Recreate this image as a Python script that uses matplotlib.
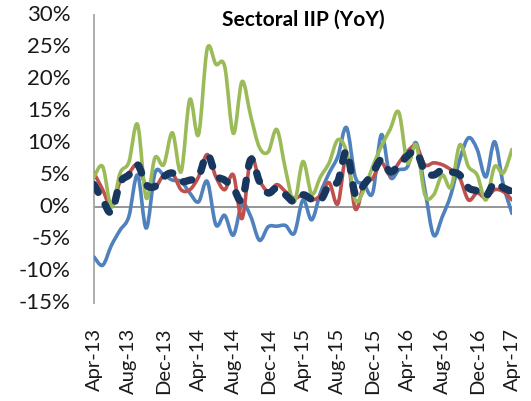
import matplotlib
matplotlib.use("Agg")
import matplotlib.pyplot as plt
from matplotlib.path import Path
from matplotlib.patches import PathPatch
import numpy as np

plt.rcParams['font.family'] = ['Lato', 'DejaVu Sans']

months = ["Apr-13", "May-13", "Jun-13", "Jul-13", "Aug-13", "Sep-13", "Oct-13", "Nov-13",
          "Dec-13", "Jan-14", "Feb-14", "Mar-14", "Apr-14", "May-14", "Jun-14", "Jul-14",
          "Aug-14", "Sep-14", "Oct-14", "Nov-14", "Dec-14", "Jan-15", "Feb-15", "Mar-15",
          "Apr-15", "May-15", "Jun-15", "Jul-15", "Aug-15", "Sep-15", "Oct-15", "Nov-15",
          "Dec-15", "Jan-16", "Feb-16", "Mar-16", "Apr-16", "May-16", "Jun-16", "Jul-16",
          "Aug-16", "Sep-16", "Oct-16", "Nov-16", "Dec-16", "Jan-17", "Feb-17", "Mar-17",
          "Apr-17"]

blue = [-7.8, -9.1, -6.0, -3.6, -1.5, 5.0, -3.3, 5.3, 5.0, 4.2, 4.0, 2.2, 0.8, 4.0, -2.8, -1.3,
        -4.4, 0.5, -1.5, -5.2, -3.1, -3.0, -2.9, -4.1, 1.1, -2.0, 2.2, 5.3, 7.9, 12.4, 4.7, 3.6,
        2.2, 11.3, 4.7, 5.8, 6.3, 10.0, 2.7, -4.4, -1.5, 2.0, 7.4, 10.8, 9.0, 4.7, 10.2, 3.5, -1.0]
red = [5.3, 2.7, 0.0, 4.0, 5.3, 6.6, 3.2, 3.0, 5.0, 5.3, 2.7, 2.7, 4.7, 8.2, 4.7, 2.7,
       5.0, -1.8, 7.7, 4.2, 2.4, 3.5, 2.4, 1.4, 1.8, 1.1, 1.8, 3.8, 0.5, 8.0, -0.3, 3.5,
       4.5, 6.9, 5.0, 6.9, 8.7, 9.5, 6.6, 6.9, 6.6, 5.8, 4.5, 1.1, 2.2, 1.4, 2.7, 2.4, 1.1]
green = [4.7, 6.3, 0.0, 5.3, 7.0, 12.9, 1.4, 7.7, 6.6, 11.6, 5.5, 16.8, 11.3, 24.7, 22.3, 22.0,
         11.5, 19.6, 14.2, 9.3, 8.6, 12.1, 5.8, 0.8, 7.1, 2.0, 4.7, 6.9, 10.5, 8.6, 1.1, 2.7,
         6.3, 9.5, 12.1, 14.8, 6.9, 9.7, 1.9, 1.9, 5.0, 3.1, 9.7, 6.3, 5.0, 1.1, 6.3, 5.3, 9.0]
navy = [3.5, 1.1, -0.8, 3.8, 5.0, 6.6, 3.5, 3.2, 4.7, 5.3, 4.0, 4.2, 4.7, 8.2, 5.0, 4.2,
        3.0, 1.1, 7.4, 4.0, 2.2, 3.0, 1.9, 0.8, 1.9, 1.2, 1.0, 3.5, 4.0, 8.7, 2.0, 3.5,
        5.3, 7.4, 5.5, 6.5, 8.0, 8.7, 5.5, 5.0, 5.8, 5.5, 5.0, 3.0, 2.5, 1.7, 3.8, 3.0, 2.4]

yticks = [-15, -10, -5, 0, 5, 10, 15, 20, 25, 30]
title = "Sectoral IIP (YoY)"

fig = plt.figure(figsize=(5.31, 4.01), dpi=100)
ax = fig.add_axes([94 / 531, 1 - 303 / 401, (512 - 94) / 531, (303 - 15) / 401])


def smooth_path(xs, ys):
    """Bezier path through the points (Excel-style smoothed line)."""
    pts = np.column_stack([xs, ys]).astype(float)
    n = len(pts)
    verts = [pts[0]]
    codes = [Path.MOVETO]
    for i in range(n - 1):
        p0 = pts[i - 1] if i > 0 else pts[i]
        p1 = pts[i]
        p2 = pts[i + 1]
        p3 = pts[i + 2] if i + 2 < n else pts[i + 1]
        c1 = p1 + (p2 - p0) / 6.0
        c2 = p2 - (p3 - p1) / 6.0
        verts += [c1, c2, p2]
        codes += [Path.CURVE4] * 3
    return Path(verts, codes)


x = np.arange(len(months))
series = [
    (blue, "#4F81BD", 2.6, "solid"),
    (red, "#C0504D", 2.6, "solid"),
    (green, "#9BBB59", 2.6, "solid"),
    (navy, "#17375E", 5.3, (0, (1.2, 1.9))),
]
for vals, col, lw, ls in series:
    p = PathPatch(smooth_path(x, np.array(vals) / 100.0), fill=False, edgecolor=col,
                  lw=lw, linestyle=ls, capstyle='round', joinstyle='round', zorder=3)
    ax.add_patch(p)

ax.set_xlim(0, len(months) - 1)
ax.set_ylim(-0.15, 0.30)
ax.axhline(0, color="#8C8C8C", lw=1.3, zorder=2)

for s in ['top', 'right', 'bottom']:
    ax.spines[s].set_visible(False)
ax.spines['left'].set_color("#A6A6A6")
ax.spines['left'].set_linewidth(1.3)

ax.set_yticks([v / 100 for v in yticks])
ax.set_yticklabels([f"{v}%" for v in yticks], fontsize=16, color="#1A1A1A")
ax.set_xticks(x[::4])
ax.set_xticklabels(months[::4], rotation=90, fontsize=14.5, color="#1A1A1A")
ax.tick_params(axis='y', length=0, pad=17)
ax.tick_params(axis='x', length=0, pad=18)
for lab in ax.get_yticklabels():
    lab.set_verticalalignment('center')

fig.text(303 / 531, 1 - 20 / 401, title, ha='center', va='center',
         fontsize=15, fontweight='bold', color="#000000")

fig.savefig("out.png", dpi=100)
